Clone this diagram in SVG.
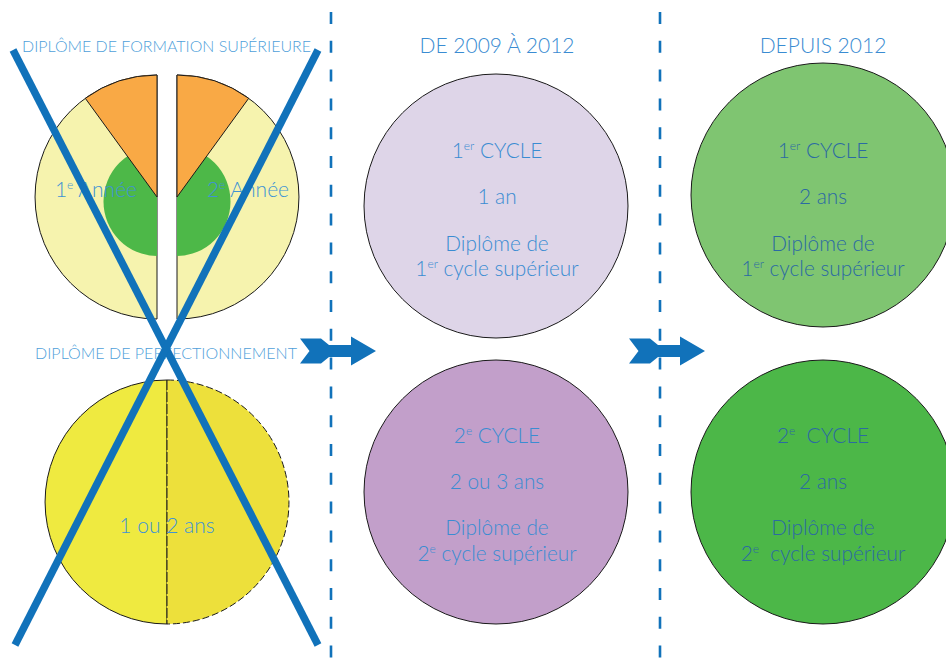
<svg xmlns="http://www.w3.org/2000/svg" width="946" height="662" viewBox="0 0 946 662">
  <style>
    text { font-family: "Lato", "Open Sans", sans-serif; font-weight: 300; }
    .title { fill: #4F9FDA; font-size: 15px; }
    .head { fill: #3A8CD2; font-size: 21px; text-anchor: middle; }
    .mid { fill: #3A8CD2; font-size: 20.8px; text-anchor: middle; }
    .new { fill: #2B6AA3; font-size: 20.8px; text-anchor: middle; }
    .old { fill: #3F93D4; font-size: 21px; text-anchor: middle; }
    .edge { stroke: #1A1A1A; stroke-width: 1; }
    .divider { stroke: #1172BA; stroke-width: 2.6; stroke-dasharray: 12 16.8; fill: none; }
    .cross { stroke: #1172BA; stroke-width: 7.5; }
    .arrow { fill: #1172BA; }
  </style>

  <!-- period dividers -->
  <g id="dividers">
    <line class="divider" x1="331" y1="12" x2="331" y2="662"/>
    <line class="divider" x1="660" y1="12" x2="660" y2="662"/>
  </g>

  <!-- former system: higher training diploma, two split years -->
  <g id="formation-superieure">
    <text class="title" x="22" y="52" textLength="289" lengthAdjust="spacingAndGlyphs">DIPLÔME DE FORMATION SUPÉRIEURE</text>
    <g id="annee-1">
      <path class="edge" d="M157,75 A122,122 0 0 0 157,319 Z" fill="#F6F3AE"/>
      <path d="M157,147 A53,54 0 0 0 157,256 Z" fill="#4DB848"/>
      <path class="edge" d="M157,197 L157,75 A122,122 0 0 0 85.3,98.3 Z" fill="#F9A945"/>
      <text class="old" x="96" y="197">1<tspan font-size="12" dy="-8">e</tspan><tspan dy="8"> Année</tspan></text>
    </g>
    <g id="annee-2">
      <path class="edge" d="M177,75 A122,122 0 0 1 177,319 Z" fill="#F6F3AE"/>
      <path d="M177,147 A53,54 0 0 1 177,256 Z" fill="#4DB848"/>
      <path class="edge" d="M177,197 L177,75 A122,122 0 0 1 248.7,98.3 Z" fill="#F9A945"/>
      <text class="old" x="248" y="197">2<tspan font-size="12" dy="-8">e</tspan><tspan dy="8"> Année</tspan></text>
    </g>
  </g>

  <!-- former system: improvement diploma -->
  <g id="perfectionnement">
    <text class="title" x="35" y="359" textLength="262" lengthAdjust="spacingAndGlyphs">DIPLÔME DE PERFECTIONNEMENT</text>
    <path d="M167,380 A122,122 0 0 0 167,624 Z" fill="#EFEA40" stroke="#1A1A1A" stroke-width="1"/>
    <path d="M167,380 A122,122 0 0 1 167,624 Z" fill="#EDE03B"/>
    <path d="M167,380 A122,122 0 0 1 167,624" fill="none" stroke="#1A1A1A" stroke-width="1" stroke-dasharray="7 3"/>
    <line x1="167" y1="380" x2="167" y2="624" stroke="#1A1A1A" stroke-width="1" stroke-dasharray="10 2"/>
    <text class="old" x="167" y="533" font-size="20">1 ou 2 ans</text>
  </g>

  <!-- crossing out of the former system -->
  <g id="crossed-out">
    <line class="cross" x1="13" y1="50" x2="318" y2="645"/>
    <line class="cross" x1="318" y1="50" x2="15" y2="645"/>
  </g>

  <!-- 2009 to 2012 -->
  <g id="periode-2009-2012">
    <text class="head" x="497" y="53">DE 2009 À 2012</text>
  </g>
  <g id="cycle1-2009">
    <circle cx="496" cy="206" r="132" fill="#DED5E8" class="edge"/>
    <text class="mid" x="497" y="158">1<tspan font-size="12" dy="-8">er</tspan><tspan dy="8"> CYCLE</tspan></text>
    <text class="mid" x="497" y="204">1 an</text>
    <text class="mid" x="497" y="251">Diplôme de</text>
    <text class="mid" x="497" y="276">1<tspan font-size="12" dy="-8">er</tspan><tspan dy="8"> cycle supérieur</tspan></text>
  </g>
  <g id="cycle2-2009">
    <circle cx="496" cy="492" r="132" fill="#C29FCA" class="edge"/>
    <text class="mid" x="497" y="443">2<tspan font-size="12" dy="-8">e</tspan><tspan dy="8"> CYCLE</tspan></text>
    <text class="mid" x="497" y="489">2 ou 3 ans</text>
    <text class="mid" x="497" y="535">Diplôme de</text>
    <text class="mid" x="497" y="561">2<tspan font-size="12" dy="-8">e</tspan><tspan dy="8"> cycle supérieur</tspan></text>
  </g>

  <!-- since 2012 -->
  <g id="periode-2012">
    <text class="head" x="823" y="53">DEPUIS 2012</text>
  </g>
  <g id="cycle1-2012">
    <circle cx="823" cy="195" r="132" fill="#7FC571" class="edge"/>
    <text class="new" x="823" y="158">1<tspan font-size="12" dy="-8">er</tspan><tspan dy="8"> CYCLE</tspan></text>
    <text class="new" x="823" y="204">2 ans</text>
    <text class="new" x="823" y="251">Diplôme de</text>
    <text class="new" x="823" y="276">1<tspan font-size="12" dy="-8">er</tspan><tspan dy="8"> cycle supérieur</tspan></text>
  </g>
  <g id="cycle2-2012">
    <circle cx="823" cy="492" r="132" fill="#4CB748" class="edge"/>
    <text class="new" x="823" y="443">2<tspan font-size="12" dy="-8">e</tspan><tspan dy="8" xml:space="preserve">  CYCLE</tspan></text>
    <text class="new" x="823" y="489">2 ans</text>
    <text class="new" x="823" y="535">Diplôme de</text>
    <text class="new" x="823" y="561">2<tspan font-size="12" dy="-8">e</tspan><tspan dy="8" xml:space="preserve">  cycle supérieur</tspan></text>
  </g>

  <!-- transition arrows -->
  <defs>
    <path id="chevron-arrow" d="M0,0 L21,0 L29,6.5 L51,6.5 L51,-2 L76,12.5 L51,27 L51,18.5 L29,18.5 L21,25 L0,25 L9.5,12.5 Z"/>
  </defs>
  <g id="connectors">
    <use href="#chevron-arrow" class="arrow" x="300" y="338.5"/>
    <use href="#chevron-arrow" class="arrow" x="629" y="338.5"/>
  </g>
</svg>
